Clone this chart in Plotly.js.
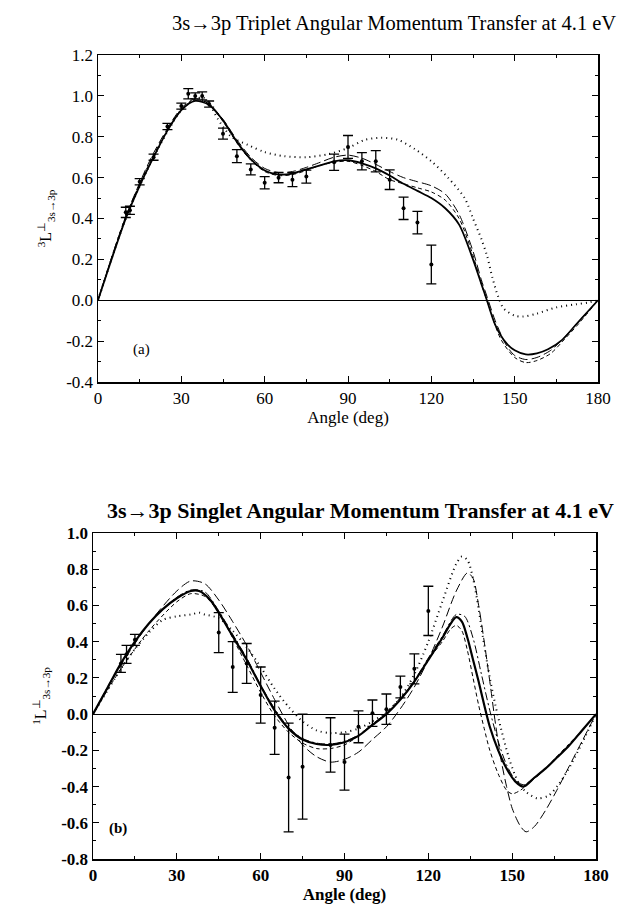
<!DOCTYPE html>
<html>
<head>
<meta charset="utf-8">
<script src="https://cdn.plot.ly/plotly-3.0.1.min.js"></script>
<style>html,body{margin:0;padding:0;background:#fff;}#chart{width:643px;height:909px;}</style>
</head>
<body>
<div id="chart"></div>
<script>
// ---------- Panel (a): triplet ----------
const tripletTitle = "3s\u21923p Triplet Angular Momentum Transfer at 4.1 eV";
const tripletYLabel = "<sup>3</sup>L<sup>\u22a5</sup><sub>3s\u21923p</sub>";
const tripletExpAngle = [10, 11.5, 15, 20, 25, 30, 32.5, 35, 37.5, 40, 45, 50, 55, 60, 65, 70, 75, 85, 90, 95, 100, 105, 110, 115, 120];
const tripletExpValue = [0.43, 0.44, 0.58, 0.70, 0.85, 0.95, 1.01, 1.00, 1.00, 0.96, 0.815, 0.705, 0.64, 0.575, 0.60, 0.59, 0.605, 0.675, 0.75, 0.68, 0.68, 0.59, 0.45, 0.38, 0.175];
const tripletExpError = [0.025, 0.02, 0.015, 0.015, 0.015, 0.015, 0.025, 0.015, 0.02, 0.015, 0.027, 0.032, 0.027, 0.03, 0.025, 0.034, 0.032, 0.04, 0.056, 0.042, 0.052, 0.048, 0.055, 0.055, 0.095];

const tripletSolidAngle = [0, 10, 15, 20, 25, 30, 35, 40, 45, 50, 55, 60, 65, 70, 75, 80, 85, 90, 95, 100, 105, 110, 115, 120, 125, 130, 135, 138, 140, 143, 147, 150, 154, 158, 162, 167, 172, 176, 180];
const tripletSolidValue = [0, 0.40, 0.56, 0.70, 0.83, 0.93, 0.975, 0.955, 0.88, 0.775, 0.69, 0.635, 0.615, 0.62, 0.64, 0.66, 0.68, 0.685, 0.67, 0.645, 0.61, 0.57, 0.535, 0.50, 0.45, 0.37, 0.20, 0.08, 0.0, -0.12, -0.21, -0.245, -0.265, -0.26, -0.24, -0.195, -0.12, -0.06, 0];

const tripletLongDashAngle = [0, 10, 20, 30, 35, 40, 45, 50, 55, 60, 65, 70, 75, 80, 85, 90, 95, 100, 105, 110, 115, 120, 125, 130, 135, 138, 140, 143, 147, 150, 154, 158, 163, 168, 174, 180];
const tripletLongDashValue = [0, 0.41, 0.72, 0.94, 0.985, 0.96, 0.885, 0.785, 0.70, 0.645, 0.625, 0.63, 0.65, 0.675, 0.70, 0.71, 0.695, 0.665, 0.63, 0.60, 0.58, 0.56, 0.52, 0.42, 0.24, 0.10, 0.02, -0.10, -0.22, -0.27, -0.29, -0.28, -0.245, -0.18, -0.09, 0];

const tripletShortDashAngle = [0, 10, 20, 30, 35, 40, 45, 50, 55, 60, 65, 70, 75, 80, 85, 90, 95, 100, 105, 110, 115, 120, 125, 130, 135, 138, 140, 145, 150, 154, 158, 163, 168, 174, 180];
const tripletShortDashValue = [0, 0.41, 0.71, 0.935, 0.98, 0.955, 0.875, 0.77, 0.685, 0.63, 0.61, 0.615, 0.635, 0.66, 0.675, 0.68, 0.66, 0.63, 0.59, 0.57, 0.55, 0.53, 0.49, 0.40, 0.22, 0.08, 0.0, -0.19, -0.28, -0.305, -0.295, -0.26, -0.19, -0.10, 0];

const tripletDottedAngle = [0, 10, 20, 30, 35, 38, 40, 43, 48, 54, 60, 67, 75, 83, 90, 96, 102, 108, 114, 120, 126, 132, 135, 138, 140, 142, 144, 146, 150, 153, 158, 165, 172, 177, 180];
const tripletDottedValue = [0, 0.40, 0.70, 0.93, 0.985, 0.99, 0.965, 0.89, 0.80, 0.76, 0.725, 0.705, 0.70, 0.715, 0.745, 0.785, 0.795, 0.785, 0.74, 0.68, 0.60, 0.50, 0.40, 0.30, 0.22, 0.11, 0.02, -0.04, -0.075, -0.08, -0.065, -0.035, -0.02, -0.01, 0];

// ---------- Panel (b): singlet ----------
const singletTitle = "3s\u21923p Singlet Angular Momentum Transfer at 4.1 eV";
const singletYLabel = "<sup>1</sup>L<sup>\u22a5</sup><sub>3s\u21923p</sub>";
const singletExpAngle = [10, 12, 15, 45, 50, 55, 60, 65, 70, 75, 85, 90, 95, 100, 105, 110, 115, 120];
const singletExpValue = [0.28, 0.33, 0.41, 0.45, 0.26, 0.28, 0.105, -0.075, -0.35, -0.29, -0.17, -0.265, -0.07, 0.005, 0.027, 0.15, 0.25, 0.57];
const singletExpError = [0.05, 0.05, 0.03, 0.11, 0.14, 0.11, 0.155, 0.147, 0.30, 0.29, 0.15, 0.155, 0.088, 0.073, 0.084, 0.06, 0.083, 0.136];

const singletSolidAngle = [0, 5, 10, 15, 20, 25, 30, 35, 38, 42, 45, 50, 55, 60, 65, 70, 75, 80, 85, 90, 95, 100, 105, 110, 115, 120, 125, 128, 130, 132, 134, 136, 138, 140, 142, 145, 148, 151, 154, 158, 162, 166, 170, 175, 180];
const singletSolidValue = [0, 0.14, 0.28, 0.40, 0.50, 0.58, 0.64, 0.68, 0.68, 0.63, 0.56, 0.43, 0.30, 0.155, 0.02, -0.08, -0.14, -0.165, -0.17, -0.155, -0.12, -0.06, 0.0, 0.08, 0.18, 0.30, 0.42, 0.50, 0.535, 0.51, 0.42, 0.30, 0.18, 0.05, -0.07, -0.20, -0.30, -0.37, -0.40, -0.35, -0.30, -0.24, -0.18, -0.09, 0];

const singletLongDashAngle = [0, 10, 20, 30, 35, 40, 45, 50, 55, 60, 65, 70, 75, 80, 85, 90, 95, 100, 105, 110, 115, 120, 125, 130, 134, 136, 138, 140, 142, 144, 146, 148, 150, 153, 155, 158, 162, 166, 170, 175, 180];
const singletLongDashValue = [0, 0.27, 0.50, 0.68, 0.735, 0.72, 0.63, 0.51, 0.38, 0.23, 0.08, -0.06, -0.17, -0.235, -0.265, -0.25, -0.21, -0.14, -0.07, 0.03, 0.15, 0.30, 0.48, 0.68, 0.78, 0.75, 0.60, 0.40, 0.18, -0.05, -0.25, -0.40, -0.52, -0.62, -0.65, -0.62, -0.53, -0.42, -0.30, -0.15, 0];

const singletShortDashAngle = [0, 10, 20, 30, 35, 40, 45, 50, 55, 60, 65, 70, 75, 80, 85, 90, 95, 100, 105, 110, 115, 120, 125, 128, 130, 132, 134, 136, 138, 140, 142, 145, 148, 150, 153, 156, 160, 165, 170, 175, 180];
const singletShortDashValue = [0, 0.25, 0.46, 0.62, 0.665, 0.65, 0.56, 0.42, 0.27, 0.12, -0.01, -0.10, -0.16, -0.19, -0.19, -0.17, -0.12, -0.06, 0.01, 0.09, 0.18, 0.30, 0.40, 0.47, 0.49, 0.46, 0.35, 0.20, 0.05, -0.08, -0.20, -0.33, -0.42, -0.44, -0.42, -0.38, -0.33, -0.25, -0.17, -0.09, 0];

const singletDashDotAngle = [0, 10, 20, 30, 35, 40, 45, 50, 55, 60, 65, 70, 75, 80, 85, 90, 95, 100, 105, 110, 115, 120, 125, 130, 133, 136, 139, 142, 145, 148, 151, 154, 158, 162, 166, 170, 175, 180];
const singletDashDotValue = [0, 0.28, 0.50, 0.645, 0.685, 0.675, 0.57, 0.44, 0.31, 0.16, 0.03, -0.075, -0.135, -0.16, -0.165, -0.15, -0.115, -0.055, 0.005, 0.085, 0.185, 0.31, 0.43, 0.55, 0.54, 0.42, 0.22, 0.02, -0.15, -0.28, -0.36, -0.39, -0.35, -0.30, -0.24, -0.18, -0.09, 0];

const singletDottedAngle = [0, 10, 15, 20, 25, 30, 35, 38, 40, 45, 50, 55, 60, 65, 70, 75, 80, 85, 90, 95, 100, 105, 110, 115, 120, 125, 130, 132, 134, 136, 138, 140, 142, 144, 146, 149, 152, 155, 159, 163, 167, 171, 175, 180];
const singletDottedValue = [0, 0.25, 0.36, 0.45, 0.52, 0.54, 0.55, 0.56, 0.55, 0.53, 0.46, 0.37, 0.26, 0.14, 0.04, -0.04, -0.09, -0.105, -0.10, -0.08, -0.04, 0.01, 0.09, 0.22, 0.40, 0.62, 0.83, 0.87, 0.85, 0.75, 0.58, 0.38, 0.20, 0.05, -0.08, -0.25, -0.37, -0.43, -0.465, -0.45, -0.38, -0.28, -0.16, 0];

// ---------- Axis ticks ----------
const angleTicks = [0, 30, 60, 90, 120, 150, 180];
const tripletYTicks = [-0.4, -0.2, 0.0, 0.2, 0.4, 0.6, 0.8, 1.0, 1.2];
const singletYTicks = [-0.8, -0.6, -0.4, -0.2, 0.0, 0.2, 0.4, 0.6, 0.8, 1.0];
const tickText = v => (v < 0 ? "-" : "") + Math.abs(v).toFixed(1);

const FONT = "Liberation Serif, Times New Roman, serif";

function curve(x, y, xa, ya, dash, width) {
  return {x: x, y: y, xaxis: xa, yaxis: ya, type: "scatter", mode: "lines",
    line: {color: "#000", dash: dash, width: width, shape: "spline", smoothing: 0.8},
    hoverinfo: "skip", showlegend: false};
}
function points(x, y, e, xa, ya) {
  return {x: x, y: y, xaxis: xa, yaxis: ya, type: "scatter", mode: "markers",
    marker: {color: "#000", size: 4},
    error_y: {type: "data", array: e, visible: true, color: "#000", thickness: 1.3, width: 5},
    showlegend: false};
}

const data = [
  curve(tripletDottedAngle, tripletDottedValue, "x", "y", "1px,4px", 2),
  curve(tripletShortDashAngle, tripletShortDashValue, "x", "y", "4px,3px", 1),
  curve(tripletLongDashAngle, tripletLongDashValue, "x", "y", "9px,4px", 1),
  curve(tripletSolidAngle, tripletSolidValue, "x", "y", "solid", 1.8),
  points(tripletExpAngle, tripletExpValue, tripletExpError, "x", "y"),

  curve(singletDottedAngle, singletDottedValue, "x2", "y2", "1px,4px", 2),
  curve(singletShortDashAngle, singletShortDashValue, "x2", "y2", "4px,3px", 1),
  curve(singletLongDashAngle, singletLongDashValue, "x2", "y2", "9px,4px", 1),
  curve(singletDashDotAngle, singletDashDotValue, "x2", "y2", "8px,3px,2px,3px", 1),
  curve(singletSolidAngle, singletSolidValue, "x2", "y2", "solid", 2.2),
  points(singletExpAngle, singletExpValue, singletExpError, "x2", "y2")
];

function xAxis(domain, anchor, bold) {
  return {domain: domain, anchor: anchor, range: [0, 180], tickvals: angleTicks, ticktext: angleTicks.map(String),
    ticks: "inside", ticklen: 6, tickwidth: 1, tickcolor: "#000",
    minor: {dtick: 15, ticks: "inside", ticklen: 3, tickcolor: "#000"},
    showline: true, linecolor: "#000", linewidth: 1.5, mirror: "ticks", showgrid: false, zeroline: false,
    tickfont: {family: FONT, size: 17, color: "#000", weight: bold ? "bold" : "normal"},
    title: {text: "Angle (deg)", standoff: 2, font: {family: FONT, size: 17, color: "#000", weight: bold ? "bold" : "normal"}}};
}
function yAxis(domain, anchor, range, ticks, label, bold) {
  return {domain: domain, anchor: anchor, range: range, tickvals: ticks, ticktext: ticks.map(tickText),
    ticks: "inside", ticklen: 6, tickwidth: 1, tickcolor: "#000",
    minor: {dtick: 0.1, ticks: "inside", ticklen: 3, tickcolor: "#000"},
    showline: true, linecolor: "#000", linewidth: 1.5, mirror: "ticks", showgrid: false,
    zeroline: true, zerolinecolor: "#000", zerolinewidth: 1,
    tickfont: {family: FONT, size: 17, color: "#000", weight: bold ? "bold" : "normal"},
    title: {text: label, standoff: 10, font: {family: FONT, size: 16, color: "#000"}}};
}

const layout = {
  width: 643, height: 909,
  margin: {l: 0, r: 0, t: 0, b: 0},
  paper_bgcolor: "#fff", plot_bgcolor: "#fff",
  font: {family: FONT, color: "#000"},
  showlegend: false,
  xaxis: xAxis([98/643, 598/643], "y", false),
  yaxis: yAxis([1 - 382/909, 1 - 55/909], "x", [-0.4, 1.2], tripletYTicks, tripletYLabel, false),
  xaxis2: xAxis([93/643, 596/643], "y2", true),
  yaxis2: yAxis([1 - 859/909, 1 - 533/909], "x2", [-0.8, 1.0], singletYTicks, singletYLabel, true),
  annotations: [
    {text: tripletTitle, xref: "paper", yref: "paper", x: 394/643, y: 1 - 23/909, xanchor: "center", yanchor: "middle",
     showarrow: false, font: {family: FONT, size: 20.5, color: "#000"}},
    {text: singletTitle, xref: "paper", yref: "paper", x: 360/643, y: 1 - 510/909, xanchor: "center", yanchor: "middle",
     showarrow: false, font: {family: FONT, size: 22, color: "#000", weight: "bold"}},
    {text: "(a)", xref: "x", yref: "y", x: 15.5, y: -0.24, showarrow: false, font: {family: FONT, size: 15, color: "#000"}},
    {text: "(b)", xref: "x2", yref: "y2", x: 9, y: -0.63, showarrow: false, font: {family: FONT, size: 15, color: "#000", weight: "bold"}}
  ]
};

Plotly.newPlot("chart", data, layout, {staticPlot: true, displayModeBar: false});
</script>
</body>
</html>
